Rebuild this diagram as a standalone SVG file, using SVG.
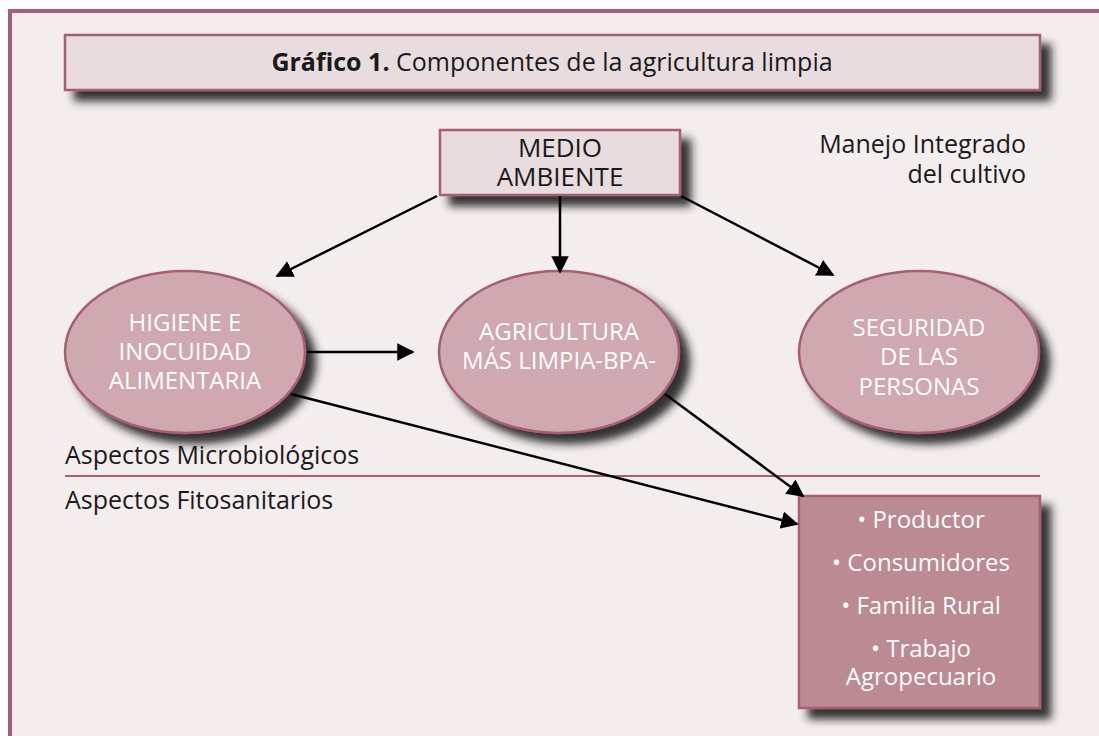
<svg xmlns="http://www.w3.org/2000/svg" width="1099" height="736" viewBox="0 0 1099 736">
<defs>
<style>
.tbox{fill:#e8dcdf;stroke:#a65f70;stroke-width:2.5}
.ell{fill:#cfa8b0;stroke:#a65f70;stroke-width:2.5}
.pbox{fill:#bb8a93;stroke:#a65f70;stroke-width:2.5}
.dark{font-family:"Open Sans","Liberation Sans",sans-serif;fill:#1a1a1a}
.white{font-family:"Open Sans","Liberation Sans",sans-serif;fill:#ffffff;text-anchor:middle}
.conn{stroke:#000;stroke-width:2.5;fill:none;marker-end:url(#ah)}
</style>
<filter id="sh" x="-20%" y="-20%" width="150%" height="160%">
<feGaussianBlur in="SourceAlpha" stdDeviation="4"/>
<feOffset dx="10" dy="10" result="b"/>
<feFlood flood-color="#1e1e1e" flood-opacity="0.9"/>
<feComposite in2="b" operator="in" result="s"/>
<feMerge><feMergeNode in="s"/><feMergeNode in="SourceGraphic"/></feMerge>
</filter>
<marker id="ah" viewBox="0 0 10 10" refX="9" refY="5" markerWidth="7" markerHeight="7" markerUnits="strokeWidth" orient="auto">
<path d="M0,0 L10,5 L0,10 z" fill="#000"/>
</marker>
</defs>
<rect x="0" y="0" width="1099" height="736" fill="#ffffff"/>
<g id="frame">
<rect x="10" y="11" width="1089" height="725" fill="#f3eded"/>
<path d="M10,736 V11 H1099" fill="none" stroke="#a65f70" stroke-width="4"/>
</g>

<g id="title">
<rect class="tbox" x="65" y="35" width="975" height="55" filter="url(#sh)"/>
<text class="dark" x="552" y="71" font-size="25" text-anchor="middle"><tspan font-weight="bold">Gráfico 1.</tspan> Componentes de la agricultura limpia</text>
</g>

<g id="medio-ambiente">
<rect class="tbox" x="440" y="130" width="240" height="65" filter="url(#sh)"/>
<text class="dark" x="560" y="157" font-size="26" text-anchor="middle">MEDIO</text>
<text class="dark" x="560" y="186" font-size="26" text-anchor="middle">AMBIENTE</text>
</g>

<g id="manejo">
<text class="dark" x="1026" y="153" font-size="25" text-anchor="end">Manejo Integrado</text>
<text class="dark" x="1026" y="183" font-size="25" text-anchor="end">del cultivo</text>
</g>

<g id="higiene">
<ellipse class="ell" cx="185" cy="352" rx="120" ry="81" filter="url(#sh)"/>
<text class="white" x="185" y="331" font-size="24">HIGIENE E</text>
<text class="white" x="185" y="360" font-size="24">INOCUIDAD</text>
<text class="white" x="185" y="389" font-size="24">ALIMENTARIA</text>
</g>

<g id="agricultura">
<ellipse class="ell" cx="559" cy="352" rx="120" ry="81" filter="url(#sh)"/>
<text class="white" x="559" y="340" font-size="24">AGRICULTURA</text>
<text class="white" x="559" y="369" font-size="24">MÁS LIMPIA-BPA-</text>
</g>

<g id="seguridad">
<ellipse class="ell" cx="919" cy="352" rx="120" ry="81" filter="url(#sh)"/>
<text class="white" x="919" y="336" font-size="24">SEGURIDAD</text>
<text class="white" x="919" y="365" font-size="24">DE LAS</text>
<text class="white" x="919" y="395" font-size="24">PERSONAS</text>
</g>

<g id="aspectos">
<text class="dark" x="65" y="464" font-size="25">Aspectos Microbiológicos</text>
<line x1="65" y1="476" x2="1040" y2="476" stroke="#a65f70" stroke-width="2"/>
<text class="dark" x="65" y="509" font-size="25">Aspectos Fitosanitarios</text>
</g>

<g id="personas-box">
<rect class="pbox" x="799" y="496" width="241" height="212" filter="url(#sh)"/>
<text class="white" x="921" y="528" font-size="24">• Productor</text>
<text class="white" x="921" y="571" font-size="24">• Consumidores</text>
<text class="white" x="921" y="614" font-size="24">• Familia Rural</text>
<text class="white" x="921" y="657" font-size="24">• Trabajo</text>
<text class="white" x="921" y="685" font-size="24">Agropecuario</text>
</g>

<g id="connectors">
<line class="conn" x1="437" y1="196" x2="277" y2="276"/>
<line class="conn" x1="560" y1="196" x2="560" y2="272"/>
<line class="conn" x1="681" y1="196" x2="833" y2="275"/>
<line class="conn" x1="307" y1="352" x2="413" y2="352"/>
<line class="conn" x1="291" y1="394" x2="797" y2="524"/>
<line class="conn" x1="665" y1="394" x2="803" y2="496"/>
</g>
</svg>
